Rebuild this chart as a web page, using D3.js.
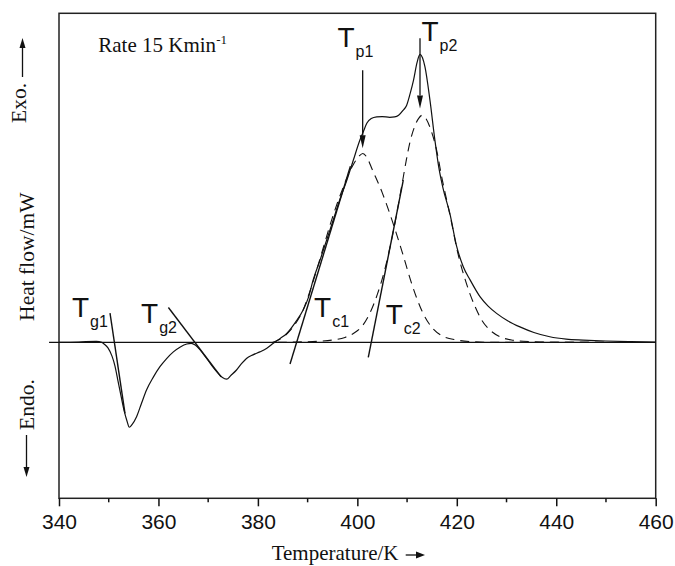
<!DOCTYPE html>
<html>
<head>
<meta charset="utf-8">
<script src="https://cdnjs.cloudflare.com/ajax/libs/d3/7.8.5/d3.min.js"></script>
<style>
    body { margin: 0; background: #fff; }
    .serif { font-family: "Liberation Serif", "Times New Roman", serif; }
    .sans { font-family: "Liberation Sans", Arial, sans-serif; }
</style>
</head>
<body>
<svg id="chart" width="675" height="566"></svg>
<script>
// DSC trace, temperature (K) and heat flow (arbitrary mW, 0 = baseline)
const dscTemp = [340, 344, 347.5, 348.6, 349.05, 349.85, 350.66, 351.26, 351.87, 352.47, 353.07, 353.67, 354.14, 354.68,
    355.6, 356.6, 357.6, 359, 360.3, 361.6, 363, 364.4, 365.7, 366.6, 367.4, 368.5, 369.7, 370.7, 371.7, 372.8,
    373.7, 374.6, 375.7, 376.7, 377.7, 379, 380.4, 381.8, 383.1, 384.5, 385.8, 387.5, 389.1, 390.2, 391.1, 392.5,
    393.8, 395, 396.5, 397.9, 399.2, 400.5, 401.2, 401.9, 402.8, 403.9, 405, 406.5, 407.5, 408.3, 409.2, 409.9,
    410.6, 411.3, 412, 412.6, 413.1, 413.6, 414.6, 415.6, 416.4, 417.2, 418.6, 420, 421.3, 422.7, 424.7, 426.3,
    428, 430.3, 432.7, 435.5, 438.7, 442, 445.4, 450, 455, 460];
const dscFlow = [0, 0.01, 0.03, 0, -0.05, -0.17, -0.42, -0.72, -1.18, -1.63, -2.06, -2.39, -2.58, -2.5,
    -2.26, -1.85, -1.45, -1.05, -0.74, -0.5, -0.29, -0.14, -0.05, -0.03, -0.08, -0.25, -0.49, -0.7, -0.89, -1.06,
    -1.12, -1.0, -0.84, -0.65, -0.49, -0.38, -0.29, -0.18, -0.03, 0.12, 0.27, 0.6, 0.98, 1.38, 1.89, 2.5,
    3.1, 3.65, 4.35, 4.93, 5.54, 6.14, 6.4, 6.66, 6.8, 6.85, 6.86, 6.84, 6.85, 6.9, 7.05, 7.2,
    7.55, 7.97, 8.5, 8.75, 8.65, 8.37, 7.36, 6.14, 5.3, 4.7, 3.92, 2.9, 2.3, 1.89, 1.38, 1.1,
    0.88, 0.65, 0.47, 0.3, 0.17, 0.1, 0.07, 0.04, 0.02, 0.01];

// deconvoluted crystallisation peaks
const peak1Temp = [383, 384, 385, 386, 387, 388, 389, 390, 391, 393, 395, 397, 399, 400.3, 401.1, 402, 403, 405,
    407, 409, 411, 413, 415, 417, 420, 423, 427, 450];
const peak1Flow = [0, 0.06, 0.15, 0.28, 0.45, 0.67, 0.95, 1.35, 1.8, 2.8, 3.8, 4.65, 5.35, 5.65, 5.74, 5.6, 5.25, 4.55,
    3.7, 2.75, 1.75, 0.95, 0.45, 0.2, 0.07, 0.02, 0, 0];
const peak2Temp = [384, 388, 392, 395, 397.5, 399.2, 401, 402.5, 404, 405.5, 407, 408.9, 409.8, 410.6, 411.5, 412.3,
    413, 413.8, 414.8, 416, 417, 418, 419, 420, 421, 421.6, 422.7, 423.7, 425, 426.7, 428.7, 431, 435, 440, 450];
const peak2Flow = [0, 0.01, 0.03, 0.07, 0.15, 0.27, 0.5, 0.88, 1.45, 2.2, 3.2, 4.73, 5.5, 6.1, 6.55, 6.8,
    6.9, 6.8, 6.45, 5.8, 5.0, 4.3, 3.6, 2.85, 2.25, 1.95, 1.45, 1.08, 0.68, 0.37, 0.17, 0.07, 0.02, 0, 0];

// tangent lines (onset construction): [T1, v1, T2, v2]
const tangentNames = ['g1', 'g2', 'c1', 'c2'];
const tangentLines = [
    [350.26, 0.89, 353.27, -2.16],
    [362.0, 1.06, 372.6, -1.05],
    [386.46, -0.66, 398.6, 5.35],
    [402.2, -0.46, 409.24, 4.93]
];

// peak arrows: [T, top, tip]
const peakNames = ['p1', 'p2'];
const peakArrows = [
    [401.07, 8.27, 5.9],
    [412.6, 9.24, 7.11]
];

// labels "T_x" anchored in data units
const labelSubs = ['g1', 'g2', 'c1', 'c2', 'p1', 'p2'];
const labelTemp = [342.6, 356.5, 391.3, 405.7, 396.0, 412.9];
const labelFlow = [0.76, 0.58, 0.76, 0.55, 8.99, 9.15];

const xTicks = [340, 360, 380, 400, 420, 440, 460];
const xMinor = [350, 370, 390, 410, 430, 450];

// Set up SVG
const svg = d3.select('#chart');
const plotLeft = 59, plotTop = 13.3, plotRight = 655.7, plotBottom = 498.3;

const x = d3.scaleLinear().domain([340, 460]).range([plotLeft, plotRight]);
const y = d3.scaleLinear().domain([-4.74, 10]).range([plotBottom, plotTop]);

const line = d3.line()
    .x(d => x(d[0]))
    .y(d => y(d[1]))
    .curve(d3.curveMonotoneX);

const zip = (a, b) => a.map((t, i) => [t, b[i]]);

// Frame
svg.append('rect')
    .attr('x', plotLeft).attr('y', plotTop)
    .attr('width', plotRight - plotLeft).attr('height', plotBottom - plotTop)
    .attr('fill', 'none').attr('stroke', '#222').attr('stroke-width', 1.5);

// Bottom axis
const xAxis = d3.axisBottom(x)
    .tickValues(xTicks)
    .tickSizeInner(8)
    .tickSizeOuter(0)
    .tickPadding(8);

const gx = svg.append('g')
    .attr('transform', `translate(0,${plotBottom})`)
    .call(xAxis);
gx.select('.domain').remove();
gx.selectAll('.tick line').attr('stroke', '#111').attr('stroke-width', 1.5);
gx.selectAll('.tick text')
    .attr('class', 'sans')
    .attr('font-size', 21)
    .attr('fill', '#111');

gx.selectAll('.minor')
    .data(xMinor)
    .join('line')
    .attr('class', 'minor')
    .attr('x1', d => x(d)).attr('x2', d => x(d))
    .attr('y1', 0).attr('y2', 4)
    .attr('stroke', '#111').attr('stroke-width', 1.5);

// Baseline
svg.append('line')
    .attr('x1', x(338)).attr('x2', x(460))
    .attr('y1', y(0)).attr('y2', y(0))
    .attr('stroke', '#111').attr('stroke-width', 1.3);

// Deconvoluted peaks
[zip(peak1Temp, peak1Flow), zip(peak2Temp, peak2Flow)].forEach(pts => {
    svg.append('path')
        .attr('d', line(pts))
        .attr('fill', 'none')
        .attr('stroke', '#111')
        .attr('stroke-width', 1.1)
        .attr('stroke-dasharray', '9,6');
});

// Measured curve
svg.append('path')
    .attr('d', line(zip(dscTemp, dscFlow)))
    .attr('fill', 'none')
    .attr('stroke', '#111')
    .attr('stroke-width', 1.2);

// Tangents
svg.append('g')
    .selectAll('line')
    .data(tangentLines)
    .join('line')
    .attr('x1', d => x(d[0])).attr('y1', d => y(d[1]))
    .attr('x2', d => x(d[2])).attr('y2', d => y(d[3]))
    .attr('stroke', '#111')
    .attr('stroke-width', 1.4);

// Arrow helper (head at x2,y2)
function arrow(x1, y1, x2, y2, len, half) {
    const dx = x2 - x1, dy = y2 - y1;
    const d = Math.hypot(dx, dy);
    const ux = dx / d, uy = dy / d;
    const bx = x2 - ux * len, by = y2 - uy * len;
    svg.append('line')
        .attr('x1', x1).attr('y1', y1).attr('x2', bx).attr('y2', by)
        .attr('stroke', '#111').attr('stroke-width', 1.3);
    svg.append('path')
        .attr('d', `M${x2},${y2}L${bx - uy * half},${by + ux * half}L${bx + uy * half},${by - ux * half}Z`)
        .attr('fill', '#111');
}

peakArrows.forEach(a => arrow(x(a[0]), y(a[1]), x(a[0]), y(a[2]), 13, 3));

// T labels
labelSubs.forEach((s, i) => {
    const t = svg.append('text')
        .attr('class', 'sans')
        .attr('x', x(labelTemp[i]))
        .attr('y', y(labelFlow[i]))
        .attr('font-size', 28)
        .attr('fill', '#111')
        .text('T');
    t.append('tspan')
        .attr('dx', 1)
        .attr('dy', 10)
        .attr('font-size', 16)
        .text(s);
});

// Rate text
const rate = svg.append('text')
    .attr('class', 'serif')
    .attr('x', 98.3).attr('y', 51.7)
    .attr('font-size', 21)
    .attr('fill', '#111')
    .text('Rate 15 Kmin');
rate.append('tspan')
    .attr('dy', -8)
    .attr('font-size', 13)
    .text('-1');

// Axis titles
svg.append('text')
    .attr('class', 'serif')
    .attr('x', 271.7).attr('y', 560)
    .attr('font-size', 21)
    .attr('fill', '#111')
    .text('Temperature/K');
arrow(405.7, 555, 425, 555, 9, 3.5);

svg.append('text')
    .attr('class', 'serif')
    .attr('transform', 'translate(34,256.7) rotate(-90)')
    .attr('text-anchor', 'middle')
    .attr('font-size', 21.5)
    .attr('fill', '#111')
    .text('Heat flow/mW');

svg.append('text')
    .attr('class', 'serif')
    .attr('transform', 'translate(26,123) rotate(-90)')
    .attr('font-size', 21.5)
    .attr('fill', '#111')
    .text('Exo.');
arrow(22.5, 77, 22.5, 38, 10, 3);

svg.append('text')
    .attr('class', 'serif')
    .attr('transform', 'translate(34,430) rotate(-90)')
    .attr('font-size', 21.5)
    .attr('fill', '#111')
    .text('Endo.');
arrow(26.5, 435, 26.5, 477, 10, 3);
</script>
</body>
</html>
